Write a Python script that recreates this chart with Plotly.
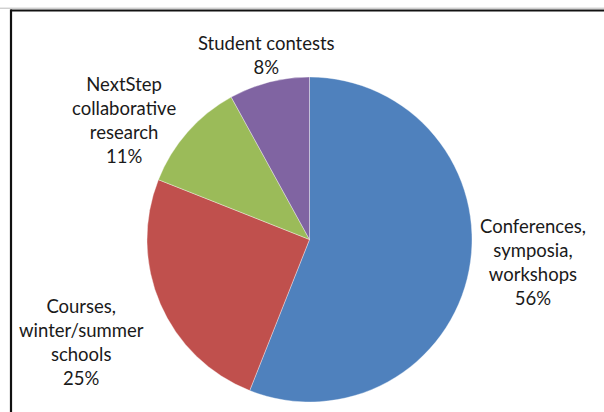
import plotly.graph_objects as go

# Share of activities by type
categories = ["Conferences,<br>symposia,<br>workshops",
              "Courses,<br>winter/summer<br>schools",
              "NextStep<br>collabora\u200ctive<br>research",
              "Student contests"]
values = [56, 25, 11, 8]
colors = ["#4F81BD", "#C0504D", "#9BBB59", "#8064A2"]

W, H = 604, 412

# label anchor points in pixels (centre of text block)
label_pos = [(533, 262), (81, 342), (124, 120), (266, 55)]


def px(x, y):
    return x / W, 1 - y / H


fig = go.Figure(go.Pie(
    values=values,
    labels=categories,
    sort=False,
    direction="clockwise",
    rotation=0,
    marker=dict(colors=colors, line=dict(color="rgba(255,255,255,0.6)", width=0.6)),
    textinfo="none",
    hoverinfo="label+percent",
    showlegend=False,
    domain=dict(x=[147 / W, 472 / W], y=[(412 - 402) / H, (412 - 77) / H]),
))

total = sum(values)
annotations = []
for cat, v, (lx, ly) in zip(categories, values, label_pos):
    ax, ay = px(lx, ly)
    annotations.append(dict(
        x=ax, y=ay, xref="paper", yref="paper",
        text=f"{cat}<br>{round(100 * v / total)}%",
        showarrow=False, xanchor="center", yanchor="middle",
        align="center",
        font=dict(family="Lato", size=18.5, color="#1a1a1a"),
    ))

# chart frame: top and left edges
shapes = [
    dict(type="line", xref="paper", yref="paper",
         x0=10.5 / W, x1=1, y0=1 - 10.5 / H, y1=1 - 10.5 / H,
         line=dict(color="#111111", width=2.2)),
    dict(type="line", xref="paper", yref="paper",
         x0=11 / W, x1=11 / W, y0=0, y1=1 - 9.5 / H,
         line=dict(color="#111111", width=2.2)),
    dict(type="line", xref="paper", yref="paper",
         x0=0, x1=1, y0=1 - 8.2 / H, y1=1 - 8.2 / H,
         line=dict(color="#bbbbbb", width=1)),
]

fig.update_layout(
    width=W, height=H,
    margin=dict(l=0, r=0, t=0, b=0),
    paper_bgcolor="white",
    plot_bgcolor="white",
    annotations=annotations,
    shapes=shapes,
)

fig.write_html("out.html")
